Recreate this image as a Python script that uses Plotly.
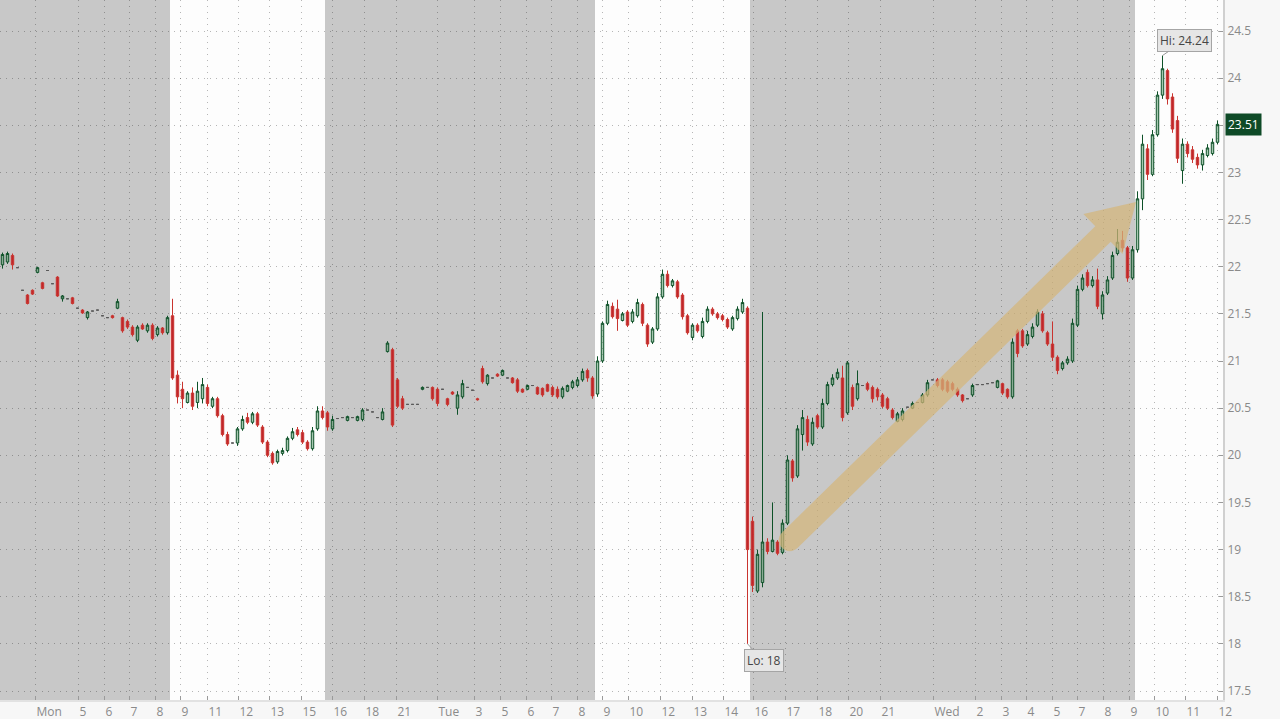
import plotly.graph_objects as go

# ---------------- data (bar index = one intraday bar) ----------------
opens = [
    22.02, 22.05, 22.12, 21.99, 21.75, 21.70, 21.75, 21.94, 21.83, 21.96,
    21.82, 21.89, 21.66, 21.66, 21.67, 21.56, 21.54, 21.46, 21.53, 21.54,
    21.48, 21.46, 21.48, 21.56, 21.46, 21.42, 21.36, 21.22, 21.38, 21.32,
    21.38, 21.28, 21.35, 21.30,
    21.48, 20.85, 20.70, 20.56, 20.66, 20.56, 20.60, 20.72, 20.52, 20.60,
    20.42, 20.22, 20.13, 20.13, 20.28, 20.40, 20.35, 20.44, 20.30, 20.14,
    20.02, 19.93, 20.02, 20.05, 20.18, 20.27, 20.24, 20.14, 20.07, 20.28,
    20.47,
    20.45, 20.28, 20.39, 20.40, 20.37, 20.40, 20.37, 20.38, 20.48, 20.46,
    20.40, 20.38, 21.10, 21.12, 20.80, 20.60, 20.54, 20.54, 20.54, 20.70,
    20.72, 20.72, 20.70, 20.70, 20.60, 20.67, 20.50, 20.62, 20.72, 20.69,
    20.60, 20.92, 20.76, 20.82, 20.86, 20.85, 20.82, 20.82, 20.80, 20.70,
    20.70, 20.74, 20.72, 20.71, 20.75, 20.72, 20.70, 20.62, 20.68, 20.72,
    20.74, 20.80, 20.90, 20.82,
    20.65, 21.00, 21.40, 21.58, 21.55, 21.43, 21.52, 21.42, 21.48, 21.60,
    21.38, 21.20, 21.34, 21.68, 21.92, 21.80, 21.84, 21.70, 21.48, 21.25,
    21.38, 21.26, 21.42, 21.55, 21.50, 21.48, 21.44, 21.34, 21.45, 21.52,
    21.56,
    19.30, 18.56, 18.65, 19.08, 18.98, 19.08, 18.97, 19.28, 19.94, 19.78,
    20.22, 20.38, 20.12, 20.42, 20.30, 20.55, 20.75, 20.82, 20.82, 20.45,
    20.72, 20.60, 20.74, 20.76, 20.72, 20.70, 20.64, 20.60, 20.48, 20.36,
    20.38, 20.51, 20.50, 20.56, 20.56, 20.64, 20.80, 20.80, 20.80, 20.78,
    20.76, 20.70, 20.64, 20.60, 20.64, 20.75, 20.75, 20.76, 20.77, 20.72,
    20.76, 20.70, 20.62, 21.32, 21.32, 21.18, 21.26, 21.38, 21.50, 21.30,
    21.18, 21.04, 20.92, 20.98, 21.00, 21.38, 21.76, 21.94, 21.80, 21.86,
    21.50, 21.72, 21.88, 22.14, 22.28, 22.20, 21.88,
    22.18, 22.72, 23.25, 22.98, 23.40, 23.82, 24.08, 23.80, 23.55, 23.02,
    23.30, 23.24, 23.16, 23.08, 23.18, 23.20, 23.32,
]
highs = [
    22.15, 22.16, 22.14, 21.99, 21.75, 21.71, 21.76, 22.00, 21.84, 21.96,
    21.82, 21.90, 21.70, 21.66, 21.68, 21.56, 21.55, 21.53, 21.53, 21.54,
    21.48, 21.46, 21.49, 21.66, 21.47, 21.44, 21.38, 21.38, 21.40, 21.40,
    21.40, 21.37, 21.36, 21.48,
    21.66, 20.90, 20.78, 20.68, 20.72, 20.78, 20.82, 20.75, 20.62, 20.62,
    20.44, 20.25, 20.13, 20.30, 20.42, 20.45, 20.46, 20.46, 20.32, 20.16,
    20.04, 20.06, 20.08, 20.20, 20.29, 20.30, 20.27, 20.16, 20.30, 20.52,
    20.52,
    20.47, 20.42, 20.39, 20.40, 20.42, 20.40, 20.42, 20.50, 20.48, 20.46,
    20.40, 20.50, 21.21, 21.14, 20.82, 20.63, 20.54, 20.54, 20.54, 20.73,
    20.72, 20.73, 20.72, 20.70, 20.61, 20.68, 20.68, 20.80, 20.72, 20.69,
    20.61, 20.95, 20.86, 20.82, 20.87, 20.91, 20.82, 20.83, 20.82, 20.71,
    20.75, 20.74, 20.73, 20.72, 20.76, 20.74, 20.73, 20.73, 20.75, 20.80,
    20.83, 20.92, 20.92, 20.84,
    21.05, 21.42, 21.64, 21.62, 21.65, 21.52, 21.54, 21.55, 21.66, 21.62,
    21.40, 21.36, 21.72, 21.97, 21.96, 21.87, 21.86, 21.72, 21.50, 21.40,
    21.40, 21.46, 21.58, 21.57, 21.52, 21.50, 21.46, 21.48, 21.58, 21.66,
    21.58,
    19.35, 19.00, 21.52, 19.12, 19.50, 19.10, 19.32, 20.00, 19.96, 20.32,
    20.48, 20.42, 20.40, 20.44, 20.60, 20.78, 20.86, 20.92, 20.95, 21.00,
    20.75, 20.90, 20.74, 20.78, 20.74, 20.72, 20.66, 20.62, 20.50, 20.46,
    20.50, 20.51, 20.57, 20.56, 20.66, 20.80, 20.80, 20.82, 20.82, 20.80,
    20.78, 20.72, 20.65, 20.60, 20.76, 20.75, 20.75, 20.76, 20.77, 20.80,
    20.77, 20.71, 21.24, 21.34, 21.34, 21.32, 21.40, 21.55, 21.53, 21.32,
    21.42, 21.06, 21.00, 21.05, 21.45, 21.80, 21.92, 21.97, 21.90, 21.98,
    21.74, 21.90, 22.16, 22.40, 22.38, 22.22, 22.22,
    22.80, 23.40, 23.30, 23.45, 23.86, 24.24, 24.10, 23.84, 23.60, 23.36,
    23.33, 23.28, 23.20, 23.24, 23.30, 23.36, 23.55,
]
lows = [
    21.98, 22.03, 21.97, 21.99, 21.75, 21.60, 21.70, 21.93, 21.76, 21.96,
    21.82, 21.68, 21.63, 21.66, 21.60, 21.56, 21.50, 21.44, 21.53, 21.54,
    21.48, 21.46, 21.45, 21.55, 21.30, 21.34, 21.26, 21.20, 21.33, 21.30,
    21.22, 21.26, 21.28, 21.28,
    20.80, 20.55, 20.50, 20.55, 20.48, 20.50, 20.55, 20.52, 20.50, 20.40,
    20.20, 20.10, 20.13, 20.10, 20.26, 20.33, 20.33, 20.30, 20.12, 19.98,
    19.90, 19.91, 20.00, 20.03, 20.16, 20.20, 20.12, 20.05, 20.05, 20.26,
    20.38,
    20.26, 20.26, 20.39, 20.40, 20.36, 20.40, 20.36, 20.36, 20.48, 20.46,
    20.40, 20.37, 21.09, 20.30, 20.50, 20.48, 20.54, 20.54, 20.54, 20.69,
    20.72, 20.58, 20.52, 20.70, 20.52, 20.64, 20.43, 20.60, 20.72, 20.69,
    20.58, 20.76, 20.74, 20.82, 20.83, 20.84, 20.82, 20.76, 20.66, 20.66,
    20.69, 20.74, 20.64, 20.62, 20.67, 20.62, 20.60, 20.60, 20.67, 20.70,
    20.72, 20.78, 20.78, 20.60,
    20.62, 20.98, 21.38, 21.45, 21.32, 21.42, 21.36, 21.40, 21.46, 21.37,
    21.15, 21.18, 21.32, 21.66, 21.78, 21.78, 21.66, 21.44, 21.28, 21.22,
    21.30, 21.24, 21.40, 21.48, 21.44, 21.42, 21.34, 21.32, 21.43, 21.50,
    18.00,
    18.55, 18.54, 18.60, 18.95, 18.97, 18.94, 18.95, 19.26, 19.72, 19.76,
    20.05, 20.10, 20.10, 20.28, 20.28, 20.53, 20.73, 20.80, 20.36, 20.43,
    20.48, 20.58, 20.74, 20.68, 20.56, 20.58, 20.50, 20.48, 20.38, 20.35,
    20.36, 20.51, 20.49, 20.56, 20.55, 20.62, 20.80, 20.72, 20.68, 20.66,
    20.68, 20.62, 20.56, 20.60, 20.62, 20.75, 20.75, 20.76, 20.77, 20.71,
    20.64, 20.60, 20.60, 21.04, 21.14, 21.16, 21.24, 21.36, 21.30, 21.16,
    21.00, 20.86, 20.90, 20.96, 20.98, 21.36, 21.74, 21.78, 21.78, 21.55,
    21.44, 21.70, 21.86, 22.12, 22.16, 21.84, 21.86,
    22.15, 22.60, 22.92, 22.96, 23.38, 23.78, 23.72, 23.42, 23.10, 22.88,
    23.16, 23.10, 23.04, 23.02, 23.16, 23.18, 23.30,
]
closes = [
    22.13, 22.14, 22.02, 21.99, 21.75, 21.61, 21.71, 21.99, 21.77, 21.96,
    21.82, 21.69, 21.69, 21.66, 21.61, 21.56, 21.51, 21.52, 21.53, 21.54,
    21.48, 21.46, 21.46, 21.63, 21.32, 21.36, 21.28, 21.36, 21.34, 21.38,
    21.24, 21.35, 21.30, 21.46,
    20.82, 20.62, 20.60, 20.66, 20.52, 20.68, 20.75, 20.55, 20.60, 20.42,
    20.22, 20.12, 20.13, 20.28, 20.38, 20.35, 20.44, 20.32, 20.14, 20.00,
    19.92, 20.04, 20.05, 20.18, 20.25, 20.22, 20.14, 20.07, 20.26, 20.47,
    20.40,
    20.30, 20.38, 20.39, 20.40, 20.41, 20.40, 20.41, 20.48, 20.48, 20.46,
    20.40, 20.46, 21.19, 20.32, 20.52, 20.50, 20.54, 20.54, 20.54, 20.72,
    20.72, 20.60, 20.55, 20.70, 20.54, 20.65, 20.64, 20.76, 20.72, 20.69,
    20.59, 20.78, 20.85, 20.82, 20.84, 20.90, 20.82, 20.77, 20.68, 20.67,
    20.74, 20.74, 20.65, 20.64, 20.68, 20.64, 20.62, 20.71, 20.74, 20.78,
    20.80, 20.89, 20.82, 20.63,
    21.00, 21.40, 21.60, 21.47, 21.45, 21.50, 21.38, 21.52, 21.62, 21.40,
    21.18, 21.34, 21.68, 21.92, 21.80, 21.85, 21.68, 21.47, 21.30, 21.38,
    21.32, 21.42, 21.55, 21.50, 21.46, 21.44, 21.36, 21.46, 21.55, 21.62,
    19.00,
    18.62, 18.95, 19.08, 18.98, 19.10, 18.96, 19.28, 19.95, 19.76, 20.28,
    20.40, 20.14, 20.35, 20.30, 20.55, 20.75, 20.82, 20.88, 20.40, 20.98,
    20.52, 20.76, 20.74, 20.70, 20.60, 20.62, 20.52, 20.50, 20.40, 20.44,
    20.47, 20.51, 20.55, 20.56, 20.64, 20.77, 20.80, 20.74, 20.70, 20.68,
    20.70, 20.64, 20.58, 20.60, 20.74, 20.75, 20.75, 20.76, 20.77, 20.79,
    20.66, 20.62, 21.20, 21.08, 21.16, 21.28, 21.36, 21.52, 21.32, 21.18,
    21.04, 20.90, 20.98, 21.02, 21.40, 21.76, 21.88, 21.80, 21.86, 21.58,
    21.70, 21.86, 22.12, 22.26, 22.20, 21.88, 22.18,
    22.72, 23.30, 22.98, 23.40, 23.82, 24.10, 23.78, 23.46, 23.15, 23.30,
    23.20, 23.14, 23.08, 23.20, 23.26, 23.32, 23.51,
]

# sessions: number of bars per block, extended hours (grey) / regular (white)
seg_bars = [34, 31, 54, 31, 77, 17]
seg_kind = ["ext", "reg", "ext", "reg", "ext", "reg"]

tick_pos = [6.5, 15.1, 20.3, 25.3, 30.5, 35.5, 40.9, 47.1, 53.3, 59.7, 65.9, 72.3, 78.7, 86.9,
            94.3, 99.5, 104.7, 109.7, 114.9, 119.9, 125.1, 131.5, 137.9, 144.1, 150.1, 156.5,
            162.9, 169.1, 175.5,
            186.1, 194.5, 199.7, 204.7, 209.9, 214.9, 220.1, 225.3, 230.3, 236.5, 242.9]
tick_text = ["Mon", "5", "6", "7", "8", "9", "11", "12", "13", "15", "16", "18", "21", "Tue",
             "3", "5", "6", "7", "8", "9", "10", "12", "13", "14", "16", "17", "18", "20", "21",
             "Wed", "2", "3", "4", "5", "7", "8", "9", "10", "11", "12"]

y_ticks = [17.5, 18, 18.5, 19, 19.5, 20, 20.5, 21, 21.5, 22, 22.5, 23, 23.5, 24, 24.5]

last_price = 23.51
hi_price, lo_price = 24.24, 18.00

# ---------------- figure ----------------
W, H = 1280, 719
ML, MR, MT, MB = 0, 57, 0, 19
PW, PH = W - ML - MR, H - MT - MB
n = len(opens)
x = list(range(n))
X0 = -0.5
X1 = X0 + PW / 5.0
Y0, Y1 = 17.4045, 24.829

is_doji = [o == h == l == c for o, h, l, c in zip(opens, highs, lows, closes)]

def pick(arr, want):
    return [v for v, d in zip(arr, is_doji) if d == want]

fig = go.Figure()
fig.add_trace(go.Candlestick(
    x=pick(x, False), open=pick(opens, False), high=pick(highs, False),
    low=pick(lows, False), close=pick(closes, False),
    increasing=dict(line=dict(color="#0d5128", width=1), fillcolor="rgba(60,135,85,0.45)"),
    decreasing=dict(line=dict(color="#c9342f", width=1), fillcolor="#c0262b"),
    whiskerwidth=0, showlegend=False, hoverinfo="skip",
))
fig.add_trace(go.Candlestick(
    x=pick(x, True), open=pick(opens, True), high=pick(highs, True),
    low=pick(lows, True), close=pick(closes, True),
    increasing=dict(line=dict(color="#5a5a5a", width=1), fillcolor="#5a5a5a"),
    decreasing=dict(line=dict(color="#5a5a5a", width=1), fillcolor="#5a5a5a"),
    whiskerwidth=0, showlegend=False, hoverinfo="skip",
))

# session shading
shapes = []
start = X0
for cnt, kind in zip(seg_bars, seg_kind):
    end = start + cnt
    if kind == "ext":
        shapes.append(dict(type="rect", xref="x", yref="paper", x0=start, x1=end, y0=0, y1=1,
                           fillcolor="#c8c8c8", line=dict(width=0), layer="below"))
    start = end

# trend arrow (drawn in pixel space of the plot area, converted to paper coords)
def to_paper(px, py):
    return px / PW, 1 - py / PH

tx, ty = 790.0, 540.0
bx, by = 1103.0, 234.0
tipx, tipy = 1136.0, 202.0
L = ((bx - tx) ** 2 + (by - ty) ** 2) ** 0.5
dx, dy = (bx - tx) / L, (by - ty) / L
nx, ny = -dy, dx
w, Wh = 11.0, 28.0
pts_a = [
    (tx + nx * w, ty + ny * w), (bx + nx * w, by + ny * w), (bx + nx * Wh, by + ny * Wh),
    (tipx, tipy), (bx - nx * Wh, by - ny * Wh), (bx - nx * w, by - ny * w),
    (tx - nx * w, ty - ny * w),
]
c1 = (tx - nx * w - dx * w * 1.35, ty - ny * w - dy * w * 1.35)
c2 = (tx + nx * w - dx * w * 1.35, ty + ny * w - dy * w * 1.35)
def fmt(p):
    a, b = to_paper(*p)
    return f"{a:.5f},{b:.5f}"
path = "M " + fmt(pts_a[0]) + "".join(" L " + fmt(p) for p in pts_a[1:])
path += " C " + fmt(c1) + " " + fmt(c2) + " " + fmt(pts_a[0]) + " Z"
shapes.append(dict(type="path", xref="paper", yref="paper", path=path,
                   fillcolor="rgb(212,182,122)", opacity=0.72, line=dict(width=0), layer="above"))

font_family = "Open Sans, DejaVu Sans, sans-serif"
annotations = [
    dict(x=232, y=hi_price, xref="x", yref="y", text=f"Hi: {hi_price:.2f}", showarrow=True,
         arrowhead=0, arrowwidth=1, arrowcolor="#9a9a9a", ax=22, ay=-15,
         bgcolor="#e6e6e6", bordercolor="#a5a5a5", borderwidth=1, borderpad=2,
         font=dict(family=font_family, size=12, color="#454545")),
    dict(x=149, y=lo_price, xref="x", yref="y", text=f"Lo: {lo_price:g}", showarrow=True,
         arrowhead=0, arrowwidth=1, arrowcolor="#9a9a9a", ax=16, ay=17,
         bgcolor="#e6e6e6", bordercolor="#a5a5a5", borderwidth=1, borderpad=2,
         font=dict(family=font_family, size=12, color="#454545")),
    dict(x=1, y=last_price, xref="paper", yref="y", text=f"{last_price:.2f}", showarrow=False,
         xanchor="left", xshift=2, bgcolor="#0e4a27", borderpad=2,
         font=dict(family=font_family, size=12, color="#ffffff")),
]

# the last-price badge covers the 23.5 label, as in the source chart
y_ticktext = ["" if abs(v - round(last_price * 2) / 2) < 1e-9 else f"{v:g}" for v in y_ticks]

grid_dash = "1px,5px"
fig.update_layout(
    width=W, height=H,
    margin=dict(l=ML, r=MR, t=MT, b=MB),
    paper_bgcolor="#f7f7f7", plot_bgcolor="#fdfdfd",
    font=dict(family=font_family, size=12, color="#8a8a8a"),
    shapes=shapes, annotations=annotations,
    boxgap=0.3,
    xaxis=dict(range=[X0, X1], rangeslider=dict(visible=False), tickmode="array",
               tickvals=tick_pos, ticktext=tick_text, ticks="inside", ticklen=4,
               tickcolor="#9a9a9a", ticklabelposition="outside right",
               showgrid=True, gridcolor="rgba(0,0,0,0.28)", griddash=grid_dash, gridwidth=1,
               showline=True, linecolor="#e2e2e2", linewidth=2, zeroline=False,
               tickfont=dict(size=12, color="#8a8a8a"), fixedrange=True),
    yaxis=dict(range=[Y0, Y1], side="right", tickmode="array", tickvals=y_ticks,
               ticktext=y_ticktext, ticks="inside", ticklen=4,
               tickcolor="#9a9a9a", showgrid=True, gridcolor="rgba(0,0,0,0.28)",
               griddash=grid_dash, gridwidth=1, showline=True, linecolor="#d0d0d0", linewidth=2,
               zeroline=False, tickfont=dict(size=12, color="#8a8a8a"), fixedrange=True),
)

fig.write_html("out.html", config={"displayModeBar": False},
               post_script="document.body.style.margin='0';document.body.style.overflow='hidden';")
